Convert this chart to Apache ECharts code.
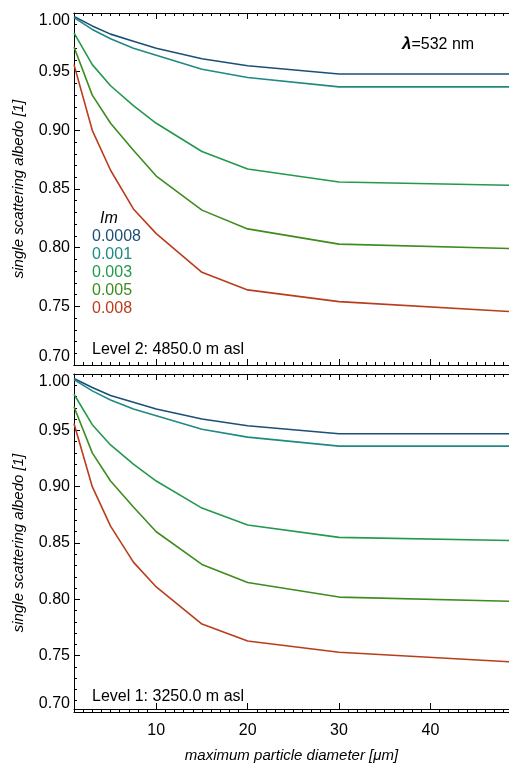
<!DOCTYPE html>
<html><head><meta charset="utf-8">
<script src="https://cdn.jsdelivr.net/npm/echarts@6/dist/echarts.min.js"></script>
<style>html,body{margin:0;padding:0;background:#fff}#c{width:509px;height:764px}</style>
</head><body><div id="c"></div>
<script>
// maximum particle diameter [µm]
const diameters = [1, 3, 5, 7.5, 10, 15, 20, 30, 50];
// imaginary part of refractive index (legend)
const imagParts = ['0.0008', '0.001', '0.003', '0.005', '0.008'];
const colors = ['#1c4f78', '#1e8a80', '#22994c', '#3d8c1e', '#b93d1c'];

// Level 2: 4850.0 m asl
const lev2_0008 = [0.997, 0.989, 0.982, 0.976, 0.970, 0.961, 0.955, 0.948, 0.948];
const lev2_001  = [0.996, 0.986, 0.978, 0.970, 0.964, 0.952, 0.945, 0.937, 0.937];
const lev2_003  = [0.983, 0.956, 0.938, 0.921, 0.906, 0.882, 0.867, 0.856, 0.853];
const lev2_005  = [0.971, 0.930, 0.906, 0.883, 0.861, 0.832, 0.816, 0.803, 0.799];
const lev2_008  = [0.956, 0.900, 0.866, 0.833, 0.812, 0.779, 0.764, 0.754, 0.745];

// Level 1: 3250.0 m asl
const lev1_0008 = [0.996, 0.988, 0.981, 0.975, 0.969, 0.960, 0.954, 0.947, 0.947];
const lev1_001  = [0.995, 0.985, 0.977, 0.969, 0.963, 0.951, 0.944, 0.936, 0.936];
const lev1_003  = [0.982, 0.955, 0.937, 0.920, 0.905, 0.881, 0.866, 0.855, 0.852];
const lev1_005  = [0.971, 0.930, 0.905, 0.882, 0.860, 0.831, 0.815, 0.802, 0.798];
const lev1_008  = [0.956, 0.900, 0.865, 0.833, 0.811, 0.778, 0.763, 0.753, 0.744];

const xMajorTicks = [10, 20, 30, 40];
const xMinorTicks = [2,3,4,5,6,7,8,9,11,12,13,14,15,16,17,18,19,21,22,23,24,25,26,27,28,29,31,32,33,34,35,36,37,38,39,41,42,43,44,45,46,47,48];
const yMin = 0.70, yMax = 1.00, yStep = 0.05;
const xMin = 1, xMax = 48.6;

const level2 = [lev2_0008, lev2_001, lev2_003, lev2_005, lev2_008];
const level1 = [lev1_0008, lev1_001, lev1_003, lev1_005, lev1_008];

const FONT = "'Liberation Sans', Arial, Helvetica, sans-serif";
const panels = [
  {top: 13, height: 352, levelText: 'Level 2: 4850.0 m asl', data: level2},
  {top: 374, height: 338, levelText: 'Level 1: 3250.0 m asl', data: level1}
];

const grids = [], xAxes = [], yAxes = [], series = [];
panels.forEach((p, pi) => {
  const gData = grids.length;
  grids.push({left: 74, right: 0, top: p.top, height: p.height});
  const gMaj = grids.length;
  grids.push({left: 74, right: 0, top: p.top, height: p.height});
  const isLast = pi === panels.length - 1;
  const base = (gi, pos, ticks, len, labels) => ({
    type: 'value', gridIndex: gi, position: pos, min: xMin, max: xMax,
    axisLine: {show: true, lineStyle: {color: '#000', width: 1}},
    axisTick: {show: true, inside: true, length: len, customValues: ticks, lineStyle: {color: '#000', width: 1}},
    axisLabel: labels ? {show: true, customValues: xMajorTicks, margin: 14, color: '#000', fontSize: 16, fontFamily: FONT} : {show: false},
    splitLine: {show: false}
  });
  const xi0 = xAxes.length;
  xAxes.push(base(gData, 'bottom', xMinorTicks, 3, false));
  xAxes.push(base(gData, 'top', xMinorTicks, 3, false));
  const xb = base(gMaj, 'bottom', xMajorTicks, 6, isLast);
  if (isLast) {
    xb.name = 'maximum particle diameter [\u03bcm]';
    xb.nameLocation = 'middle';
    xb.nameGap = 39;
    xb.nameTextStyle = {fontStyle: 'italic', fontSize: 15, color: '#000', fontFamily: FONT};
  }
  xAxes.push(xb);
  xAxes.push(base(gMaj, 'top', xMajorTicks, 6, false));

  const yi0 = yAxes.length;
  yAxes.push({
    type: 'value', gridIndex: gData, min: yMin, max: yMax, interval: yStep,
    axisLine: {show: true, lineStyle: {color: '#000', width: 1}},
    axisTick: {show: true, inside: true, length: 6, lineStyle: {color: '#000'}},
    minorTick: {show: true, splitNumber: 5, length: 3, lineStyle: {color: '#000'}},
    axisLabel: {color: '#000', fontSize: 16, fontFamily: FONT, margin: 4,
      formatter: v => v.toFixed(2), verticalAlignMaxLabel: 'top', verticalAlignMinLabel: 'bottom'},
    splitLine: {show: false},
    name: 'single scattering albedo [1]', nameLocation: 'middle', nameGap: 48,
    nameTextStyle: {fontStyle: 'italic', fontSize: 15, color: '#000', fontFamily: FONT}
  });
  yAxes.push({type: 'value', gridIndex: gMaj, min: yMin, max: yMax, show: false});

  p.data.forEach((vals, si) => {
    series.push({
      type: 'line', name: imagParts[si], xAxisIndex: xi0, yAxisIndex: yi0,
      data: diameters.map((d, i) => [d, vals[i]]),
      showSymbol: false, symbol: 'none',
      lineStyle: {color: colors[si], width: 1.6}, itemStyle: {color: colors[si]},
      z: 2
    });
  });
});

const graphic = [
  {type: 'text', left: 402, top: 36, style: {
    text: '{l|\u03bb}=532 nm', font: '16px ' + FONT, fill: '#000',
    rich: {l: {fontStyle: 'italic', fontWeight: 'bold', fontSize: 17, fontFamily: FONT}}}},
  {type: 'text', left: 100, top: 211, style: {text: 'Im', font: 'italic 16px ' + FONT, fill: '#000'}}
];
imagParts.forEach((t, i) => {
  graphic.push({type: 'text', left: 92, top: 229 + i * 17.8, style: {text: t, font: '16px ' + FONT, fill: colors[i]}});
});
graphic.push({type: 'text', left: 92, top: 342, style: {text: panels[0].levelText, font: '16px ' + FONT, fill: '#000'}});
graphic.push({type: 'text', left: 92, top: 689, style: {text: panels[1].levelText, font: '16px ' + FONT, fill: '#000'}});

const chart = echarts.init(document.getElementById('c'), null, {renderer: 'canvas'});
chart.setOption({
  animation: false,
  backgroundColor: '#fff',
  grid: grids, xAxis: xAxes, yAxis: yAxes, series: series, graphic: graphic
});
</script></body></html>
